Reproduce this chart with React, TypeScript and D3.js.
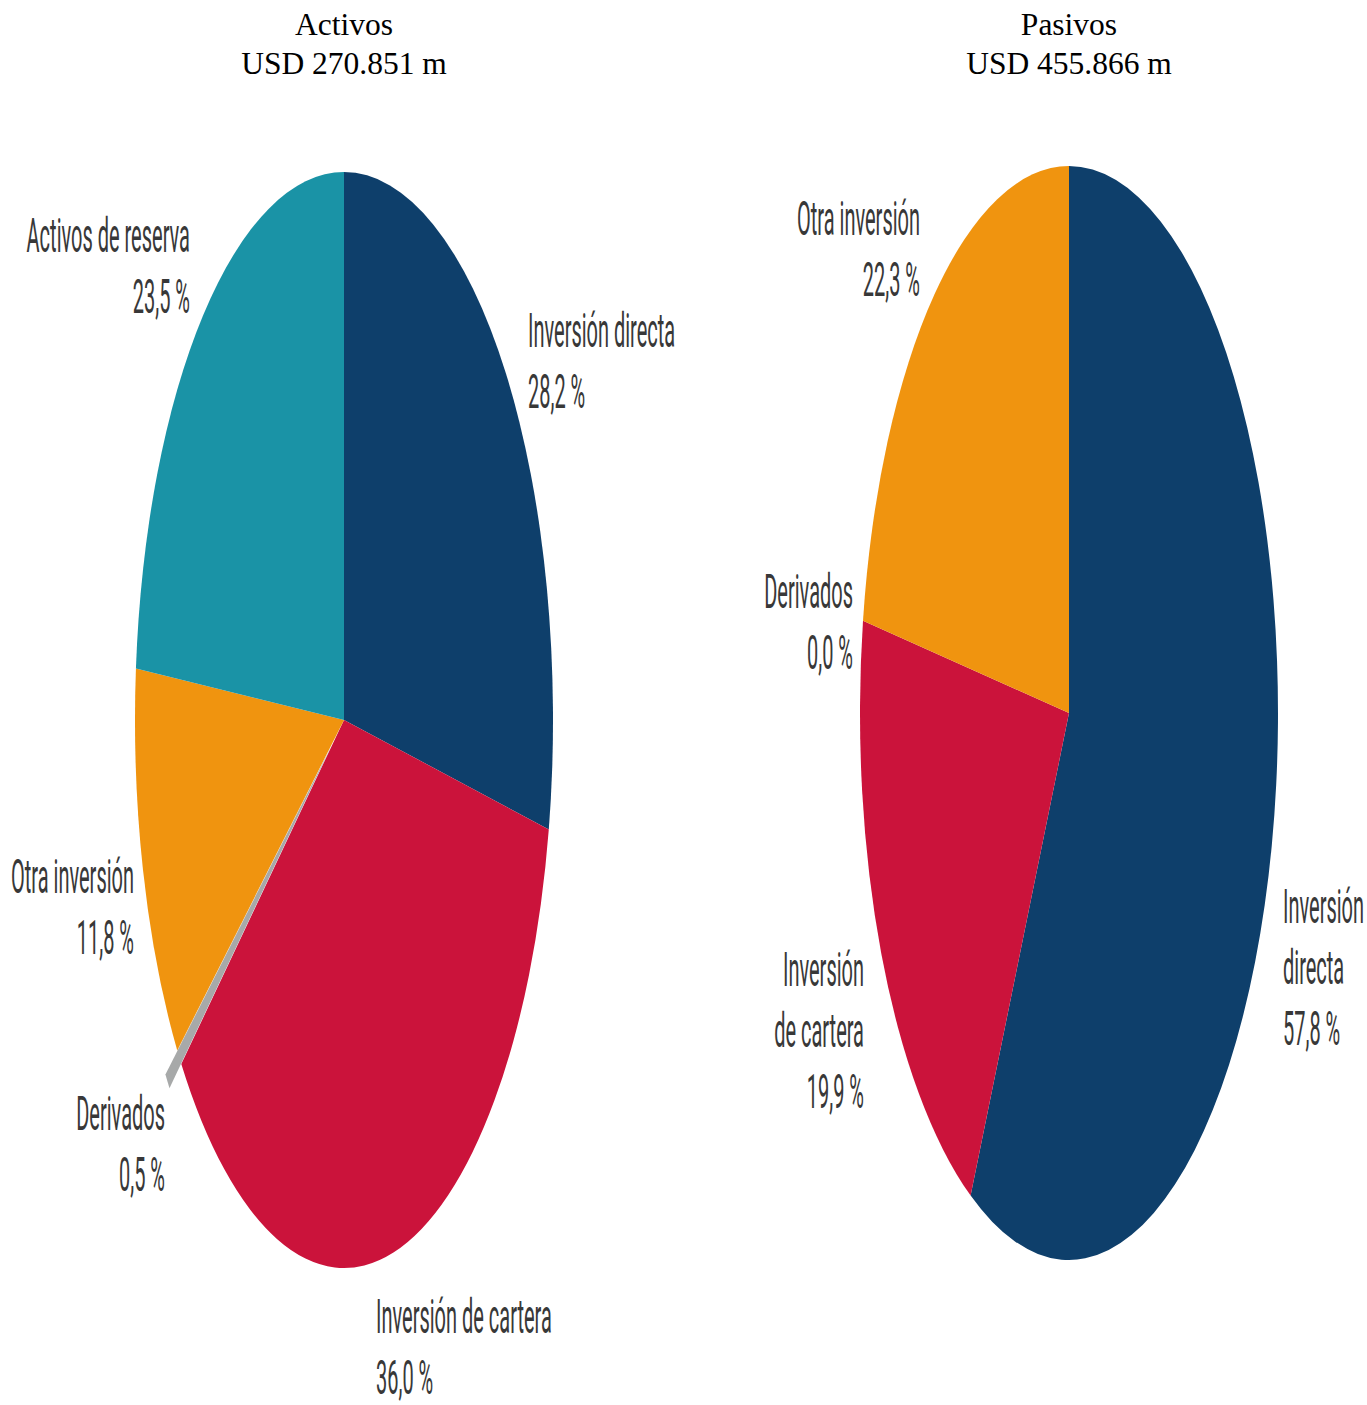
import React from "react";
import * as d3 from "d3";

const activosLabels = ["Inversión directa", "Inversión de cartera", "Derivados", "Otra inversión", "Activos de reserva"];
const activosValues = [28.2, 36.0, 0.5, 11.8, 23.5];
const pasivosLabels = ["Inversión directa", "Inversión de cartera", "Derivados", "Otra inversión"];
const pasivosValues = [57.8, 19.9, 0.0, 22.3];
const activosTitle = ["Activos", "USD 270.851 m"];
const pasivosTitle = ["Pasivos", "USD 455.866 m"];

const colorMap: Record<string, string> = {
  "Inversión directa": "#0e3f6b",
  "Inversión de cartera": "#cb133b",
  "Derivados": "#a7a9a9",
  "Otra inversión": "#f0940f",
  "Activos de reserva": "#1a93a6",
};

type LabelSpec = { x: number; y: number; anchor: "start" | "end"; lines: string[] };

const R = 209;
const FS = 20;
const SX = 1.0;
const SY = 2.4;
const LH = 61;

function fmt(v: number) {
  return v.toFixed(1).replace(".", ",") + " %";
}

function Pie({ cx, cy, ry, labels, values, title, labelSpecs, explode }: {
  cx: number; cy: number; ry: number; labels: string[]; values: number[]; title: string[];
  labelSpecs: LabelSpec[]; explode: Record<string, number>;
}) {
  const data = labels.map((l, i) => ({ label: l, value: values[i] }));
  const pie = d3.pie<{ label: string; value: number }>().sort(null).value((d) => d.value);
  const arcs = pie(data);
  const arc = d3.arc<d3.PieArcDatum<{ label: string; value: number }>>().innerRadius(0).outerRadius(R);
  const k = ry / R;
  return (
    <g>
      <text x={cx} y={35} textAnchor="middle" fontFamily="'Liberation Serif', 'Times New Roman', serif" fontSize={31.5} fill="#000">{title[0]}</text>
      <text x={cx} y={74} textAnchor="middle" fontFamily="'Liberation Serif', 'Times New Roman', serif" fontSize={31.5} fill="#000">{title[1]}</text>
      <g transform={`translate(${cx},${cy}) scale(1,${k})`}>
        {arcs.map((a, i) => {
          if (a.value === 0) return null;
          const off = explode[a.data.label] || 0;
          const mid = (a.startAngle + a.endAngle) / 2;
          const dx = Math.sin(mid) * off;
          const dy = -Math.cos(mid) * off;
          return (
            <path key={i} d={arc(a) || ""} fill={colorMap[a.data.label]} transform={`translate(${dx},${dy})`} />
          );
        })}
      </g>
      {labelSpecs.map((s, i) => (
        <g key={i}>
          {[...s.lines, fmt(values[i])].map((t, j) => (
            <text key={j} transform={`translate(${s.x},${s.y + j * LH}) scale(${SX},${SY})`} textAnchor={s.anchor}
              fontFamily="Roboto, 'Noto Sans', sans-serif" fontSize={FS} fill="#383838">{t}</text>
          ))}
        </g>
      ))}
    </g>
  );
}

export default function App() {
  const leftSpecs: LabelSpec[] = [
    { x: 528, y: 347, anchor: "start", lines: ["Inversión directa"] },
    { x: 376, y: 1333, anchor: "start", lines: ["Inversión de cartera"] },
    { x: 165, y: 1130, anchor: "end", lines: ["Derivados"] },
    { x: 134, y: 893, anchor: "end", lines: ["Otra inversión"] },
    { x: 190, y: 252, anchor: "end", lines: ["Activos de reserva"] },
  ];
  const rightSpecs: LabelSpec[] = [
    { x: 1283, y: 923, anchor: "start", lines: ["Inversión", "directa"] },
    { x: 864, y: 986, anchor: "end", lines: ["Inversión", "de cartera"] },
    { x: 853, y: 608, anchor: "end", lines: ["Derivados"] },
    { x: 920, y: 235, anchor: "end", lines: ["Otra inversión"] },
  ];
  return (
    <svg width={1367} height={1405} style={{ position: "absolute", left: 0, top: 0, display: "block", background: "#fff" }}>
      <Pie cx={344} cy={720} ry={548} labels={activosLabels} values={activosValues} title={activosTitle}
        labelSpecs={leftSpecs} explode={{ "Derivados": 15 }} />
      <Pie cx={1069} cy={713} ry={547} labels={pasivosLabels} values={pasivosValues} title={pasivosTitle}
        labelSpecs={rightSpecs} explode={{}} />
    </svg>
  );
}
